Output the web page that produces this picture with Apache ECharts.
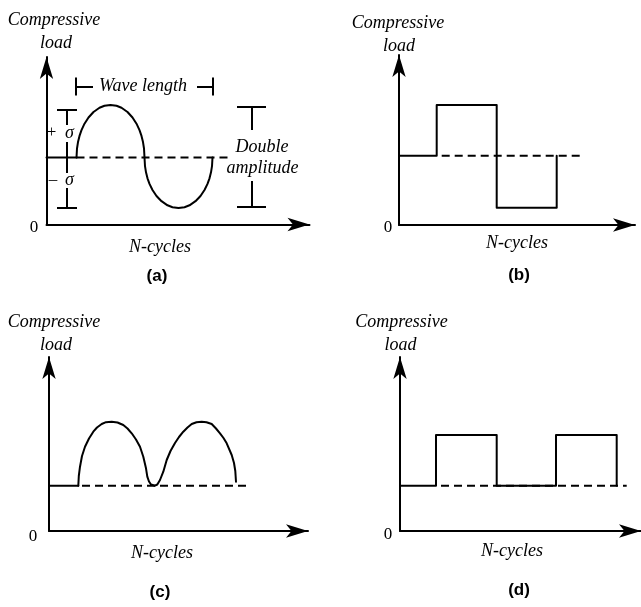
<!DOCTYPE html>
<html>
<head>
<meta charset="utf-8">
<script src="https://cdn.jsdelivr.net/npm/echarts@6/dist/echarts.min.js"></script>
<style>
  html, body { margin: 0; padding: 0; background: #fff; }
  #chart { width: 641px; height: 607px; }
</style>
</head>
<body>
<div id="chart"></div>
<script>
// Four fatigue load histories. Each panel has its own axes; every value is
// measured from that panel's origin (x = cycles, y = compressive load).

const panelLetters = ['(a)', '(b)', '(c)', '(d)'];
const loadTitle = ['Compressive', 'load'];
const cycleTitle = 'N-cycles';
const originLabel = '0';

// axis extents (x, y) of each panel
const extentX = [263, 236, 259, 241];
const extentY = [167.5, 170, 174, 174];

// (a) fully reversed sinusoidal load about the mean
const leadA = [[0, 67], [30, 67]];
const waveA = [
  [30, 67], [30.5, 76], [31.5, 82.4], [33, 88.6], [35, 94.4], [38, 100.8], [42, 107],
  [47, 112.5], [53, 116.7], [58, 118.7], [64, 119.5], [70, 118.7], [75, 116.7],
  [81, 112.5], [86, 107], [90, 100.8], [93, 94.4], [95, 88.6], [96.5, 82.4],
  [97.5, 76], [98, 67], [98.5, 58.3], [99.5, 52.2], [101, 46.2], [103, 40.6],
  [106, 34.5], [110, 28.5], [115, 23.3], [121, 19.2], [126, 17.3], [132, 16.5],
  [138, 17.3], [143, 19.2], [149, 23.3], [154, 28.5], [158, 34.5], [161, 40.6],
  [163, 46.2], [164.5, 52.2], [165.5, 58.3], [166, 67]
];
const meanA = [[30, 67], [181.8, 67]];

// (b) square wave: [cycle where the level starts, load level]
const stepsB = [[0, 69.3], [37.7, 120], [97.7, 17.3], [157.7, 69.3]];
const meanB = [[42.7, 69.3], [184.3, 69.3]];

// (c) repeated compressive half-waves above the base level
const leadC = [[0, 45.3], [29.3, 45.3]];
const waveC = [
  [29.3, 45.3], [29.8, 55], [31, 64.3], [33, 75], [36, 84.3], [40, 92.5],
  [44.3, 99.3], [48, 103.5], [52.7, 107], [57, 108.8], [62.7, 109.3],
  [68.5, 108.5], [74.3, 106], [78.5, 102.5], [82.7, 97.7], [87, 91.5],
  [91, 84.3], [94.3, 74.3], [97, 62.7], [98.3, 54.3], [100, 49.5], [102, 46.5],
  [106, 45.3], [108.3, 46.5], [111, 51], [114.3, 59.3], [117.7, 71],
  [121.5, 80], [126, 88], [130, 94], [134.3, 99.3], [138.5, 103.5],
  [142.7, 107], [147.5, 108.8], [152.7, 109.3], [157.5, 108.8], [162.7, 107],
  [167, 102.5], [171, 97.7], [174.5, 93], [177.7, 87.7], [182.7, 76],
  [185, 68], [186.3, 60], [187, 49.3]
];
const meanC = [[33, 45.3], [197.7, 45.3]];

// (d) repeated rectangular pulses above the base level
const stepsD = [[0, 45.3], [36, 96], [96.7, 45.3], [156, 96], [216.7, 45.3]];
const meanD = [[41, 45.3], [226.7, 45.3]];

// (a) dimension marks: ±σ, wave length and double amplitude
const sigmaMarks = [
  [[10.5, 115.2], [30.5, 115.2]], [[10.5, 17], [30.5, 17]],
  [[20.5, 115.2], [20.5, 99.5]], [[20.5, 82.5], [20.5, 51.5]], [[20.5, 36.5], [20.5, 17]]
];
const waveLengthMarks = [
  [[29.5, 147], [29.5, 129]], [[29.5, 138], [46.5, 138]],
  [[150.5, 138], [166.5, 138]], [[166.5, 147], [166.5, 129]]
];
const amplitudeMarks = [
  [[190.5, 117.8], [219.5, 117.8]], [[205, 117.8], [205, 94.5]],
  [[205, 43.5], [205, 17.5]], [[190.5, 17.5], [219.5, 17.5]]
];

// ---------------------------------------------------------------------------
const ink = '#000';
const gridOrigins = [[46.5, 57], [399, 55], [49, 357], [400, 357]];

const grids = gridOrigins.map((o, i) => ({
  left: o[0], top: o[1], width: extentX[i], height: extentY[i], containLabel: false
}));

function axis(i, isX) {
  return {
    type: 'value', gridIndex: i, min: 0, max: isX ? extentX[i] : extentY[i],
    axisLine: {
      show: true, onZero: false,
      symbol: ['none', 'arrow'], symbolSize: [10, 22],
      lineStyle: { color: ink, width: 2 }
    },
    axisTick: { show: false }, axisLabel: { show: false }, splitLine: { show: false }
  };
}

function trace(i, data, extra) {
  return Object.assign({
    type: 'line', xAxisIndex: i, yAxisIndex: i, data: data,
    symbol: 'none', showSymbol: false, silent: true, animation: false, clip: false,
    lineStyle: { color: ink, width: 2, join: 'round', cap: 'round' }
  }, extra || {});
}

function dashed(i, data) {
  return trace(i, data, { lineStyle: { color: ink, width: 2, type: [8, 5] } });
}

function marks(segments) {
  return {
    type: 'lines', coordinateSystem: 'cartesian2d', xAxisIndex: 0, yAxisIndex: 0,
    data: segments.map(c => ({ coords: c })), silent: true, animation: false,
    lineStyle: { color: ink, width: 2, opacity: 1, curveness: 0 }
  };
}

const series = [
  trace(0, leadA), trace(0, waveA), dashed(0, meanA),
  marks(sigmaMarks), marks(waveLengthMarks), marks(amplitudeMarks),
  trace(1, stepsB, { step: 'end' }), dashed(1, meanB),
  trace(2, leadC), trace(2, waveC), dashed(2, meanC),
  trace(3, stepsD, { step: 'end' }), dashed(3, meanD)
];

// text placement (pixel positions)
const serif = 'italic 18px "Liberation Serif", "Times New Roman", serif';
const plainSerif = '17px "Liberation Serif", "Times New Roman", serif';
const sans = 'bold 17px "Liberation Sans", Arial, sans-serif';

function label(text, x, y, font) {
  return {
    type: 'text', x: x, y: y, silent: true,
    style: {
      text: text, font: font, fill: ink,
      align: 'center', verticalAlign: 'middle',
      textAlign: 'center', textVerticalAlign: 'middle'
    }
  };
}

const titlePos = [
  [[54, 20], [56, 43], [160, 247], [157, 276], [34, 228]],
  [[398, 23], [399, 46], [517, 243], [519, 275], [388, 228]],
  [[54, 322], [56, 345], [162, 553], [160, 592], [33, 537]],
  [[401.5, 322], [400.5, 345], [512, 551], [519, 590], [388, 535]]
];

const texts = [];
titlePos.forEach((p, i) => {
  texts.push(label(loadTitle[0], p[0][0], p[0][1], serif));
  texts.push(label(loadTitle[1], p[1][0], p[1][1], serif));
  texts.push(label(cycleTitle, p[2][0], p[2][1], serif));
  texts.push(label(panelLetters[i], p[3][0], p[3][1], sans));
  texts.push(label(originLabel, p[4][0], p[4][1], plainSerif));
});
texts.push(label('Wave length', 143, 86.5, serif));
texts.push(label('+', 51.5, 133, plainSerif));
texts.push(label('σ', 69.5, 133, serif));
texts.push(label('–', 53, 180, plainSerif));
texts.push(label('σ', 69.5, 180, serif));
texts.push(label('Double', 262, 147, serif));
texts.push(label('amplitude', 262.5, 168, serif));

const chart = echarts.init(document.getElementById('chart'), null, { renderer: 'canvas' });
chart.setOption({
  backgroundColor: '#fff',
  animation: false,
  grid: grids,
  xAxis: grids.map((g, i) => axis(i, true)),
  yAxis: grids.map((g, i) => axis(i, false)),
  series: series,
  graphic: { elements: texts }
});
</script>
</body>
</html>
